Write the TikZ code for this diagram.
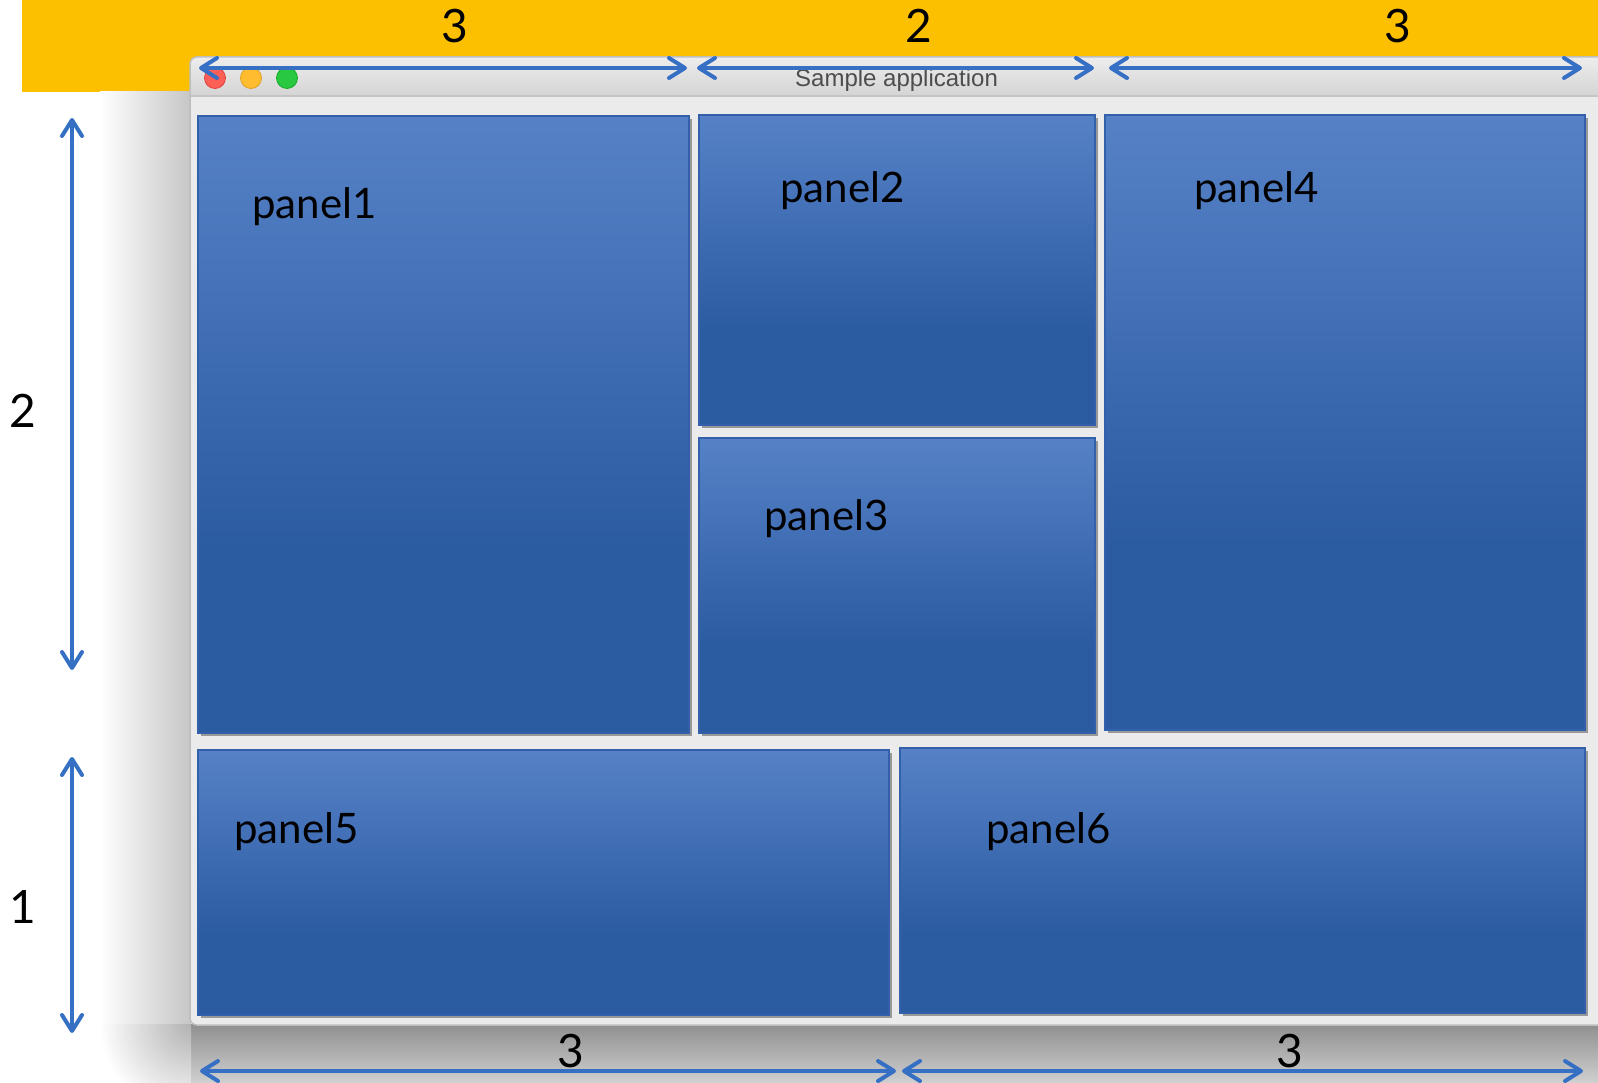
\documentclass[tikz,border=0pt]{standalone}
\usepackage{fontspec}
\setmainfont{Lato}
\newfontfamily\uifont{Liberation Sans}
\usetikzlibrary{arrows.meta,shadows}

\definecolor{bannerorange}{RGB}{253,192,0}
\definecolor{arrowblue}{RGB}{54,112,196}
\definecolor{ptop}{RGB}{86,129,199}
\definecolor{pbot}{RGB}{43,91,161}
\definecolor{pborder}{RGB}{50,96,170}
\definecolor{winbg}{RGB}{235,235,235}
\definecolor{winborder}{RGB}{190,190,190}
\definecolor{ttop}{RGB}{237,237,237}
\definecolor{tbot}{RGB}{212,212,212}
\definecolor{sepgray}{RGB}{196,196,196}
\definecolor{titletext}{RGB}{77,77,77}
\definecolor{lred}{RGB}{254,95,87}
\definecolor{lredb}{RGB}{224,68,62}
\definecolor{lyel}{RGB}{254,188,46}
\definecolor{lyelb}{RGB}{222,161,35}
\definecolor{lgrn}{RGB}{40,200,64}
\definecolor{lgrnb}{RGB}{26,171,41}
\definecolor{shleft}{RGB}{198,198,198}
\definecolor{shbottop}{RGB}{143,143,143}
\definecolor{shbotbot}{RGB}{208,208,208}
\definecolor{shcorner}{RGB}{178,178,178}

\pgfdeclareverticalshading{panelshade}{100bp}{color(0bp)=(pbot); color(40bp)=(pbot); color(75bp)=(ptop); color(100bp)=(ptop)}
\pgfdeclareradialshading{cornershade}{\pgfpointorigin}{color(0bp)=(shcorner); color(25bp)=(white); color(50bp)=(white)}

\begin{document}
\begin{tikzpicture}[x=1pt,y=-1pt,
  panel/.style={draw=pborder, line width=1.5pt, shade, shading=panelshade,
    inner sep=0pt, outer sep=0pt, anchor=north west,
    drop shadow={shadow xshift=3pt, shadow yshift=-3pt, opacity=0.35, fill=black}},
  plabel/.style={font=\fontsize{42}{50}\selectfont, text=black, inner sep=0pt, anchor=base west},
  dimlabel/.style={font=\fontsize{46}{55}\selectfont, text=black, inner sep=0pt, anchor=base},
  dim/.style={draw=arrowblue, line width=4pt, line cap=round,
    >={Straight Barb[length=16pt,width=20pt,round]}, <->},
  light/.style={circle, minimum size=21pt, inner sep=0pt, line width=0.8pt}]
\useasboundingbox (0,0) rectangle (1598,1083);
\clip (0,0) rectangle (1598,1083);
\fill[white] (0,0) rectangle (1598,1083);
\fill[bannerorange] (22,0) rectangle (1598,92);
% window shadow
\shade[left color=white, right color=shleft] (100,92) rectangle (191,1025);
\shade[top color=shbottop, bottom color=shbotbot] (190,1024) rectangle (1598,1083);
\begin{scope}
  \clip (95,1024) rectangle (191,1083);
  \shade[shading=cornershade] (191,1024) circle (92);
\end{scope}
% window
\fill[winbg, rounded corners=7pt] (190,1025) -- (190,57) -- (1640,57) -- (1640,1025) -- cycle;
\begin{scope}
  \clip[rounded corners=7pt] (190,1025) -- (190,57) -- (1640,57) -- (1640,1025) -- cycle;
  \shade[top color=ttop, bottom color=tbot] (190,57) rectangle (1640,96);
\end{scope}
\draw[sepgray, line width=1.5pt] (190,96) -- (1640,96);
\draw[winborder, line width=1.5pt, rounded corners=7pt] (190,1025) -- (190,57) -- (1640,57) -- (1640,1025) -- cycle;
\node[light, fill=lred, draw=lredb] (red) at (215,78) {};
\node[light, fill=lyel, draw=lyelb] (yellow) at (251,78) {};
\node[light, fill=lgrn, draw=lgrnb] (green) at (287,78) {};
\node[font=\uifont\fontsize{24}{28}\selectfont, text=titletext, inner sep=0pt, anchor=base west] (title) at (795,87) {Sample application};
% panels
\node[panel, minimum width=491pt, minimum height=617pt] (p1) at (198,116) {};
\node[panel, minimum width=396pt, minimum height=310pt] (p2) at (699,115) {};
\node[panel, minimum width=396pt, minimum height=295pt] (p3) at (699,438) {};
\node[panel, minimum width=480pt, minimum height=615pt] (p4) at (1105,115) {};
\node[panel, minimum width=691pt, minimum height=265pt] (p5) at (198,750) {};
\node[panel, minimum width=685pt, minimum height=265pt] (p6) at (900,748) {};
\node[plabel] (l1) at (252,219) {panel1};
\node[plabel] (l2) at (780,203) {panel2};
\node[plabel] (l3) at (764,530) {panel3};
\node[plabel] (l4) at (1194,203) {panel4};
\node[plabel] (l5) at (234,843) {panel5};
\node[plabel] (l6) at (986,843) {panel6};
% dimension arrows
\coordinate (t1a) at (199,68); \coordinate (t1b) at (687,68);
\coordinate (t2a) at (697,68); \coordinate (t2b) at (1094,68);
\coordinate (t3a) at (1109,68); \coordinate (t3b) at (1582,68);
\coordinate (v1a) at (72,118); \coordinate (v1b) at (72,670);
\coordinate (v2a) at (72,757); \coordinate (v2b) at (72,1033);
\coordinate (b1a) at (200,1071); \coordinate (b1b) at (896,1071);
\coordinate (b2a) at (902,1071); \coordinate (b2b) at (1583,1071);
\draw[dim] (t1a) -- (t1b);
\draw[dim] (t2a) -- (t2b);
\draw[dim] (t3a) -- (t3b);
\draw[dim] (v1a) -- (v1b);
\draw[dim] (v2a) -- (v2b);
\draw[dim] (b1a) -- (b1b);
\draw[dim] (b2a) -- (b2b);
\node[dimlabel] (n1) at (455,43) {3};
\node[dimlabel] (n2) at (919,43) {2};
\node[dimlabel] (n3) at (1398,43) {3};
\node[dimlabel] (n4) at (23,427) {2};
\node[dimlabel] (n5) at (23,923) {1};
\node[dimlabel] (n6) at (571,1067) {3};
\node[dimlabel] (n7) at (1290,1067) {3};
\end{tikzpicture}
\end{document}
